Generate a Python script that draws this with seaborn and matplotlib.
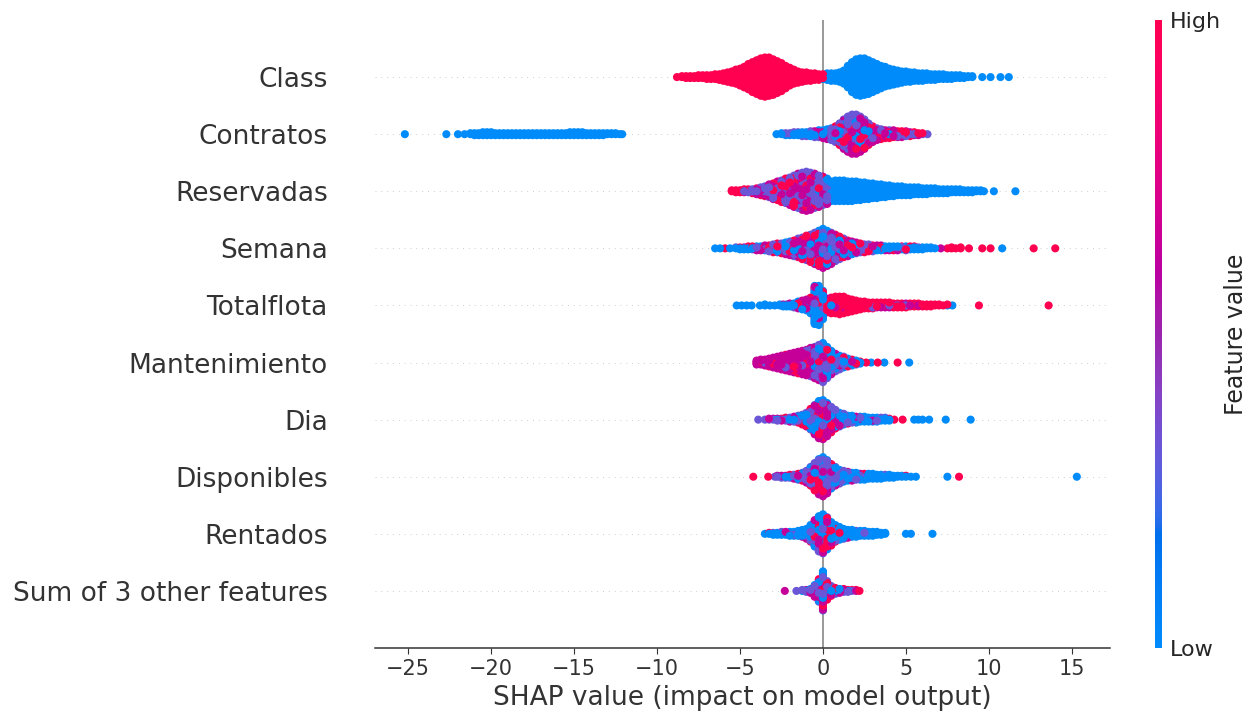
import numpy as np
import pandas as pd
import matplotlib
matplotlib.use("Agg")
import matplotlib.pyplot as plt
from matplotlib.colors import LinearSegmentedColormap, Normalize
from matplotlib.cm import ScalarMappable
import seaborn as sns

# Features, top row first
FEATURES = ["Class", "Contratos", "Reservadas", "Semana", "Totalflota",
            "Mantenimiento", "Dia", "Disponibles", "Rentados",
            "Sum of 3 other features"]

# Feature-value level used to colour each sample group (0 = low, 1 = high)
GROUP_LEVELS = [0.0, 0.32, 0.64, 1.0]

X_TICKS = [-25, -20, -15, -10, -5, 0, 5, 10, 15]
X_LABEL = "SHAP value (impact on model output)"
CBAR_LABEL = "Feature value"
CBAR_TICK_LABELS = ["Low", "High"]

# Each entry: (SHAP value, n low, n mid-low, n mid-high, n high)
CLASS_BINS = [
    (-8.8, 0, 0, 0, 1), (-8.5, 0, 0, 0, 2), (-8.25, 0, 0, 0, 3), (-8.0, 0, 0, 0, 3),
    (-7.75, 0, 0, 0, 3), (-7.5, 0, 0, 0, 4), (-7.25, 0, 0, 0, 4), (-7.0, 0, 0, 0, 5),
    (-6.75, 0, 0, 0, 5), (-6.5, 0, 0, 0, 6), (-6.25, 0, 0, 0, 7), (-6.0, 0, 0, 0, 9),
    (-5.75, 0, 0, 0, 11), (-5.5, 0, 0, 0, 13), (-5.25, 0, 0, 0, 16), (-5.0, 0, 0, 0, 19),
    (-4.75, 0, 0, 0, 23), (-4.5, 0, 0, 0, 28), (-4.25, 0, 0, 0, 33), (-4.0, 0, 0, 0, 37),
    (-3.75, 0, 0, 0, 41), (-3.5, 0, 0, 0, 43), (-3.25, 0, 0, 0, 42), (-3.0, 0, 0, 0, 39),
    (-2.75, 0, 0, 0, 35), (-2.5, 0, 0, 0, 31), (-2.25, 0, 0, 0, 25), (-2.0, 0, 0, 0, 20),
    (-1.75, 0, 0, 0, 16), (-1.5, 0, 0, 0, 13), (-1.25, 0, 0, 0, 11), (-1.0, 1, 0, 0, 9),
    (-0.75, 0, 0, 0, 9), (-0.5, 0, 0, 0, 8), (-0.25, 0, 0, 0, 7), (0.0, 2, 0, 0, 4),
    (0.25, 8, 0, 0, 0), (0.5, 9, 0, 0, 0), (0.75, 9, 0, 0, 0), (1.0, 11, 0, 0, 0),
    (1.25, 15, 0, 0, 0), (1.5, 24, 0, 0, 0), (1.75, 33, 0, 0, 0), (2.0, 39, 0, 0, 0),
    (2.25, 41, 0, 0, 0), (2.5, 40, 0, 0, 0), (2.75, 37, 0, 0, 0), (3.0, 33, 0, 0, 0),
    (3.25, 29, 0, 0, 0), (3.5, 25, 0, 0, 0), (3.75, 22, 0, 0, 0), (4.0, 19, 0, 0, 0),
    (4.25, 17, 0, 0, 0), (4.5, 15, 0, 0, 0), (4.75, 13, 0, 0, 0), (5.0, 12, 0, 0, 0),
    (5.25, 11, 0, 0, 0), (5.5, 10, 0, 0, 0), (5.75, 9, 0, 0, 0), (6.0, 9, 0, 0, 0),
    (6.25, 8, 0, 0, 0), (6.5, 7, 0, 0, 0), (6.75, 7, 0, 0, 0), (7.0, 6, 0, 0, 0),
    (7.25, 6, 0, 0, 0), (7.5, 5, 0, 0, 0), (7.75, 5, 0, 0, 0), (8.0, 4, 0, 0, 0),
    (8.25, 4, 0, 0, 0), (8.5, 3, 0, 0, 0), (8.75, 2, 0, 0, 0), (9.0, 2, 0, 0, 0),
    (9.6, 1, 0, 0, 0), (10.1, 1, 0, 0, 0), (10.7, 1, 0, 0, 0), (11.2, 1, 0, 0, 0),
]

CONTRATOS_BINS = [
    (-25.2, 1, 0, 0, 0), (-22.7, 1, 0, 0, 0), (-22.0, 1, 0, 0, 0), (-21.6, 1, 0, 0, 0),
    (-21.25, 2, 0, 0, 0), (-21.0, 3, 0, 0, 0), (-20.75, 3, 0, 0, 0), (-20.5, 4, 0, 0, 0),
    (-20.25, 4, 0, 0, 0), (-20.0, 4, 0, 0, 0), (-19.75, 3, 0, 0, 0), (-19.5, 3, 0, 0, 0),
    (-19.25, 3, 0, 0, 0), (-19.0, 3, 0, 0, 0), (-18.75, 3, 0, 0, 0), (-18.5, 3, 0, 0, 0),
    (-18.25, 3, 0, 0, 0), (-18.0, 3, 0, 0, 0), (-17.75, 3, 0, 0, 0), (-17.5, 3, 0, 0, 0),
    (-17.25, 3, 0, 0, 0), (-17.0, 3, 0, 0, 0), (-16.75, 3, 0, 0, 0), (-16.5, 3, 0, 0, 0),
    (-16.25, 3, 0, 0, 0), (-16.0, 3, 0, 0, 0), (-15.75, 3, 0, 0, 0), (-15.5, 3, 0, 0, 0),
    (-15.25, 4, 0, 0, 0), (-15.0, 4, 0, 0, 0), (-14.75, 4, 0, 0, 0), (-14.5, 4, 0, 0, 0),
    (-14.25, 3, 0, 0, 0), (-14.0, 3, 0, 0, 0), (-13.75, 3, 0, 0, 0), (-13.5, 3, 0, 0, 0),
    (-13.25, 3, 0, 0, 0), (-13.0, 2, 0, 0, 0), (-12.75, 2, 0, 0, 0), (-12.5, 2, 0, 0, 0),
    (-12.25, 1, 0, 0, 0), (-12.1, 1, 0, 0, 0),
    (-2.8, 1, 0, 0, 0), (-2.5, 2, 0, 0, 0), (-2.25, 2, 1, 0, 0), (-2.0, 2, 1, 0, 0),
    (-1.75, 3, 1, 0, 0), (-1.5, 3, 1, 0, 0), (-1.25, 3, 1, 1, 0), (-1.0, 3, 1, 1, 0),
    (-0.75, 3, 2, 1, 0), (-0.5, 3, 3, 1, 0), (-0.25, 4, 3, 1, 0), (0.0, 4, 3, 2, 0),
    (0.25, 4, 4, 3, 0), (0.5, 4, 5, 3, 1), (0.75, 5, 6, 5, 1), (1.0, 4, 8, 7, 4),
    (1.25, 5, 11, 10, 5), (1.5, 6, 13, 12, 6), (1.75, 6, 14, 14, 7), (2.0, 6, 14, 14, 7),
    (2.25, 5, 13, 12, 7), (2.5, 4, 11, 10, 6), (2.75, 3, 8, 8, 4), (3.0, 2, 6, 6, 3),
    (3.25, 1, 4, 5, 3), (3.5, 1, 3, 4, 3), (3.75, 0, 3, 3, 3), (4.0, 1, 3, 3, 2),
    (4.25, 0, 2, 3, 3), (4.5, 0, 2, 3, 2), (4.75, 0, 2, 2, 3), (5.0, 0, 2, 2, 2),
    (5.25, 0, 1, 2, 2), (5.5, 0, 1, 2, 1), (5.75, 0, 1, 1, 1), (6.0, 0, 1, 0, 1),
    (6.3, 0, 1, 0, 0),
]

RESERVADAS_BINS = [
    (-5.5, 0, 0, 0, 2), (-5.25, 0, 0, 0, 3), (-5.0, 0, 1, 0, 2), (-4.75, 0, 1, 1, 2),
    (-4.5, 0, 2, 1, 1), (-4.25, 0, 2, 1, 2), (-4.0, 0, 3, 2, 2), (-3.75, 0, 4, 3, 2),
    (-3.5, 0, 5, 3, 3), (-3.25, 0, 6, 4, 4), (-3.0, 0, 7, 5, 5), (-2.75, 0, 8, 6, 6),
    (-2.5, 0, 10, 7, 6), (-2.25, 0, 11, 8, 7), (-2.0, 0, 13, 9, 7), (-1.75, 0, 15, 10, 8),
    (-1.5, 0, 17, 10, 9), (-1.25, 0, 19, 11, 9), (-1.0, 0, 20, 12, 9), (-0.75, 0, 20, 11, 8),
    (-0.5, 1, 19, 10, 6), (-0.25, 1, 18, 9, 5), (0.0, 3, 17, 7, 3), (0.25, 10, 11, 4, 2),
    (0.5, 19, 2, 0, 0), (0.75, 22, 0, 0, 0), (1.0, 22, 0, 0, 0), (1.25, 22, 0, 0, 0),
    (1.5, 21, 0, 0, 0), (1.75, 21, 0, 0, 0), (2.0, 20, 0, 0, 0), (2.25, 19, 0, 0, 0),
    (2.5, 18, 0, 0, 0), (2.75, 17, 0, 0, 0), (3.0, 16, 0, 0, 0), (3.25, 15, 0, 0, 0),
    (3.5, 14, 0, 0, 0), (3.75, 13, 0, 0, 0), (4.0, 12, 0, 0, 0), (4.25, 11, 0, 0, 0),
    (4.5, 10, 0, 0, 0), (4.75, 10, 0, 0, 0), (5.0, 9, 0, 0, 0), (5.25, 9, 0, 0, 0),
    (5.5, 8, 0, 0, 0), (5.75, 8, 0, 0, 0), (6.0, 7, 0, 0, 0), (6.25, 7, 0, 0, 0),
    (6.5, 6, 0, 0, 0), (6.75, 6, 0, 0, 0), (7.0, 5, 0, 0, 0), (7.25, 5, 0, 0, 0),
    (7.5, 5, 0, 0, 0), (7.75, 4, 0, 0, 0), (8.0, 4, 0, 0, 0), (8.25, 4, 0, 0, 0),
    (8.5, 3, 0, 0, 0), (8.75, 3, 0, 0, 0), (9.0, 3, 0, 0, 0), (9.25, 2, 0, 0, 0),
    (9.5, 2, 0, 0, 0), (9.7, 1, 0, 0, 0), (10.3, 1, 0, 0, 0), (11.6, 1, 0, 0, 0),
]

SEMANA_BINS = [
    (-6.5, 1, 0, 0, 0), (-6.2, 1, 0, 0, 0), (-5.9, 0, 0, 0, 1), (-5.6, 1, 0, 0, 0),
    (-5.25, 1, 1, 0, 0), (-5.0, 2, 0, 0, 1), (-4.75, 2, 0, 1, 0), (-4.5, 2, 1, 0, 1),
    (-4.25, 1, 1, 1, 1), (-4.0, 2, 1, 1, 1), (-3.75, 2, 1, 1, 1), (-3.5, 2, 1, 1, 2),
    (-3.25, 2, 2, 1, 2), (-3.0, 3, 2, 2, 2), (-2.75, 3, 2, 2, 3), (-2.5, 3, 3, 2, 3),
    (-2.25, 4, 3, 3, 3), (-2.0, 4, 4, 3, 4), (-1.75, 5, 4, 4, 4), (-1.5, 5, 5, 5, 5),
    (-1.25, 6, 5, 6, 6), (-1.0, 7, 6, 6, 7), (-0.75, 7, 7, 7, 8), (-0.5, 8, 8, 8, 9),
    (-0.25, 9, 9, 9, 10), (0.0, 10, 10, 10, 11), (0.25, 9, 9, 9, 10), (0.5, 8, 8, 8, 9),
    (0.75, 7, 7, 7, 7), (1.0, 6, 6, 6, 6), (1.25, 5, 5, 5, 5), (1.5, 4, 4, 4, 5),
    (1.75, 4, 3, 3, 4), (2.0, 3, 3, 3, 3), (2.25, 3, 2, 2, 3), (2.5, 2, 2, 2, 3),
    (2.75, 2, 2, 1, 3), (3.0, 2, 2, 1, 2), (3.25, 2, 1, 1, 2), (3.5, 2, 1, 1, 2),
    (3.75, 2, 1, 1, 1), (4.0, 2, 1, 1, 1), (4.25, 2, 1, 0, 2), (4.5, 2, 1, 1, 1),
    (4.75, 2, 1, 0, 1), (5.0, 3, 1, 0, 1), (5.25, 2, 0, 1, 1), (5.5, 3, 0, 0, 1),
    (5.75, 2, 1, 0, 0), (6.0, 3, 0, 0, 0), (6.25, 2, 0, 0, 0), (6.5, 2, 0, 0, 0),
    (6.75, 1, 0, 0, 0), (7.1, 0, 0, 1, 0), (7.5, 0, 0, 0, 1), (7.75, 0, 0, 0, 2),
    (8.0, 0, 0, 0, 1), (8.3, 0, 0, 0, 2), (8.8, 0, 0, 0, 1), (9.6, 0, 0, 0, 1),
    (10.1, 0, 0, 0, 1), (10.8, 1, 0, 0, 0), (12.7, 0, 0, 0, 1), (14.0, 0, 0, 0, 1),
]

TOTALFLOTA_BINS = [
    (-5.2, 1, 0, 0, 0), (-4.9, 1, 0, 0, 0), (-4.6, 1, 0, 0, 0), (-4.3, 1, 0, 0, 0),
    (-3.8, 1, 0, 0, 0), (-3.5, 2, 0, 0, 0), (-3.2, 1, 0, 0, 0), (-2.9, 1, 0, 0, 0),
    (-2.6, 2, 0, 0, 0), (-2.4, 2, 0, 1, 0), (-2.2, 2, 1, 0, 0), (-2.0, 3, 0, 1, 0),
    (-1.75, 3, 1, 1, 0), (-1.5, 4, 1, 2, 1), (-1.25, 5, 2, 2, 1), (-1.0, 6, 2, 3, 1),
    (-0.75, 9, 3, 4, 1), (-0.5, 24, 4, 9, 3), (-0.25, 28, 4, 7, 2), (0.0, 22, 3, 4, 1),
    (0.25, 2, 1, 2, 10), (0.5, 1, 1, 2, 13), (0.75, 1, 0, 2, 15), (1.0, 1, 1, 1, 16),
    (1.25, 1, 0, 2, 15), (1.5, 0, 1, 1, 13), (1.75, 1, 1, 1, 10), (2.0, 1, 1, 1, 8),
    (2.25, 1, 0, 1, 7), (2.5, 1, 1, 1, 5), (2.75, 1, 0, 1, 5), (3.0, 1, 1, 0, 5),
    (3.25, 1, 0, 1, 4), (3.5, 0, 1, 1, 4), (3.75, 1, 0, 1, 4), (4.0, 0, 1, 1, 4),
    (4.25, 0, 0, 1, 4), (4.5, 0, 1, 0, 4), (4.75, 0, 0, 1, 4), (5.0, 0, 1, 1, 3),
    (5.25, 0, 0, 1, 3), (5.5, 0, 1, 0, 3), (5.75, 0, 0, 1, 3), (6.0, 0, 0, 1, 2),
    (6.25, 0, 0, 0, 3), (6.5, 0, 0, 1, 2), (6.75, 0, 0, 0, 2), (7.0, 0, 0, 0, 2),
    (7.25, 0, 0, 0, 1), (7.5, 1, 0, 0, 1), (7.8, 1, 0, 0, 0), (9.4, 0, 0, 0, 1),
    (13.6, 0, 0, 0, 1),
]

MANTENIMIENTO_BINS = [
    (-4.0, 0, 0, 5, 0), (-3.75, 0, 0, 5, 1), (-3.5, 0, 1, 6, 0), (-3.25, 0, 1, 7, 1),
    (-3.0, 0, 1, 9, 1), (-2.75, 0, 1, 11, 1), (-2.5, 0, 2, 12, 1), (-2.25, 0, 2, 14, 1),
    (-2.0, 0, 3, 14, 2), (-1.75, 0, 3, 16, 2), (-1.5, 1, 4, 16, 2), (-1.25, 1, 5, 17, 2),
    (-1.0, 2, 6, 17, 2), (-0.75, 3, 8, 16, 3), (-0.5, 5, 10, 15, 3), (-0.25, 8, 13, 13, 3),
    (0.0, 12, 15, 10, 4), (0.25, 12, 11, 7, 3), (0.5, 10, 8, 5, 2), (0.75, 8, 6, 3, 2),
    (1.0, 7, 4, 2, 2), (1.25, 6, 3, 2, 1), (1.5, 5, 2, 1, 1), (1.75, 4, 1, 1, 1),
    (2.0, 3, 1, 0, 1), (2.25, 2, 0, 0, 1), (2.6, 0, 0, 0, 1), (2.9, 1, 0, 0, 0),
    (3.3, 0, 0, 0, 1), (3.7, 1, 0, 0, 0), (4.5, 0, 0, 0, 1), (5.2, 1, 0, 0, 0),
]

DIA_BINS = [
    (-3.9, 0, 1, 0, 0), (-3.5, 0, 1, 0, 0), (-3.25, 0, 1, 1, 0), (-3.0, 0, 1, 1, 0),
    (-2.75, 1, 1, 1, 0), (-2.5, 0, 1, 1, 1), (-2.25, 1, 1, 1, 1), (-2.0, 1, 2, 1, 1),
    (-1.75, 1, 2, 2, 1), (-1.5, 2, 2, 2, 2), (-1.25, 2, 3, 3, 3), (-1.0, 3, 4, 4, 4),
    (-0.75, 5, 6, 5, 6), (-0.5, 7, 8, 8, 8), (-0.25, 9, 10, 10, 10), (0.0, 9, 11, 10, 11),
    (0.25, 9, 9, 8, 9), (0.5, 8, 7, 6, 6), (0.75, 7, 5, 4, 4), (1.0, 6, 4, 3, 2),
    (1.25, 6, 3, 2, 1), (1.5, 5, 2, 1, 1), (1.75, 5, 2, 1, 0), (2.0, 5, 1, 1, 0),
    (2.25, 4, 1, 1, 0), (2.5, 4, 1, 0, 1), (2.75, 4, 1, 0, 0), (3.0, 4, 0, 1, 0),
    (3.25, 4, 1, 0, 0), (3.5, 3, 1, 0, 0), (3.75, 3, 1, 0, 0), (4.0, 2, 0, 0, 1),
    (4.3, 0, 0, 0, 1), (4.8, 0, 0, 0, 1), (5.5, 1, 0, 0, 0), (5.75, 1, 0, 0, 0),
    (6.0, 1, 0, 0, 0), (6.4, 1, 0, 0, 0), (7.4, 1, 0, 0, 0), (8.9, 1, 0, 0, 0),
]

DISPONIBLES_BINS = [
    (-4.2, 0, 0, 0, 1), (-3.3, 0, 0, 0, 1), (-2.9, 0, 1, 0, 0), (-2.75, 0, 1, 1, 0),
    (-2.5, 1, 1, 1, 0), (-2.25, 1, 1, 1, 0), (-2.0, 1, 1, 1, 1), (-1.75, 1, 2, 1, 1),
    (-1.5, 2, 2, 2, 1), (-1.25, 2, 3, 2, 2), (-1.0, 3, 4, 3, 3), (-0.75, 4, 6, 5, 5),
    (-0.5, 6, 8, 7, 8), (-0.25, 9, 10, 9, 9), (0.0, 10, 11, 10, 10), (0.25, 10, 9, 8, 8),
    (0.5, 9, 7, 5, 5), (0.75, 8, 5, 4, 3), (1.0, 7, 4, 2, 2), (1.25, 7, 3, 1, 1),
    (1.5, 6, 2, 1, 1), (1.75, 6, 2, 1, 0), (2.0, 6, 1, 1, 0), (2.25, 5, 1, 1, 0),
    (2.5, 5, 1, 0, 1), (2.75, 5, 1, 0, 0), (3.0, 5, 1, 0, 0), (3.25, 4, 1, 0, 0),
    (3.5, 4, 0, 1, 0), (3.75, 3, 1, 0, 0), (4.0, 4, 0, 0, 0), (4.25, 3, 0, 0, 0),
    (4.5, 2, 0, 0, 0), (4.75, 2, 0, 0, 0), (5.0, 1, 0, 0, 1), (5.3, 1, 0, 0, 0),
    (5.6, 1, 0, 0, 0), (7.5, 1, 0, 0, 0), (8.2, 0, 0, 0, 1), (15.3, 1, 0, 0, 0),
]

RENTADOS_BINS = [
    (-3.5, 1, 0, 0, 0), (-3.25, 1, 0, 0, 1), (-3.0, 2, 1, 0, 0), (-2.75, 3, 0, 0, 0),
    (-2.5, 3, 1, 0, 0), (-2.25, 3, 0, 1, 0), (-2.0, 4, 1, 0, 0), (-1.75, 4, 1, 0, 0),
    (-1.5, 4, 1, 0, 1), (-1.25, 5, 1, 1, 1), (-1.0, 6, 2, 1, 2), (-0.75, 9, 4, 2, 3),
    (-0.5, 13, 6, 4, 5), (-0.25, 17, 8, 6, 6), (0.0, 19, 9, 6, 7), (0.25, 16, 7, 5, 6),
    (0.5, 13, 5, 3, 4), (0.75, 11, 3, 2, 2), (1.0, 10, 2, 1, 1), (1.25, 8, 2, 1, 0),
    (1.5, 7, 1, 1, 0), (1.75, 7, 1, 0, 0), (2.0, 6, 1, 0, 0), (2.25, 6, 0, 0, 0),
    (2.5, 5, 1, 0, 0), (2.75, 5, 0, 0, 0), (3.0, 5, 0, 0, 0), (3.25, 4, 0, 0, 0),
    (3.5, 3, 0, 0, 0), (3.75, 2, 0, 0, 0), (5.0, 1, 0, 0, 0), (5.3, 1, 0, 0, 0),
    (6.6, 1, 0, 0, 0),
]

OTHER_BINS = [
    (-2.3, 0, 0, 1, 0), (-1.6, 0, 1, 0, 0), (-1.25, 1, 1, 0, 0), (-1.0, 1, 1, 1, 0),
    (-0.75, 2, 1, 1, 1), (-0.5, 4, 3, 3, 3), (-0.25, 8, 6, 5, 5), (0.0, 13, 10, 9, 9),
    (0.25, 6, 5, 4, 5), (0.5, 3, 3, 2, 3), (0.75, 2, 2, 1, 2), (1.0, 2, 1, 1, 1),
    (1.25, 1, 1, 1, 1), (1.5, 1, 1, 0, 1), (1.75, 0, 1, 0, 1), (2.0, 0, 0, 1, 1),
    (2.2, 0, 0, 0, 1),
]

ROW_TABLES = [CLASS_BINS, CONTRATOS_BINS, RESERVADAS_BINS, SEMANA_BINS,
              TOTALFLOTA_BINS, MANTENIMIENTO_BINS, DIA_BINS,
              DISPONIBLES_BINS, RENTADOS_BINS, OTHER_BINS]


def red_blue_cmap():
    """Blue-to-red colormap interpolated in LCH space."""
    n = 100
    l_vals = np.r_[np.linspace(54.0, 40.0, n // 2), np.linspace(40.0, 54.0, n // 2)]
    c_vals = np.linspace(70.0, 90.0, n)
    h_vals = np.linspace(4.6588, 0.35470565 + 2 * np.pi, n)
    a = c_vals * np.cos(h_vals)
    b = c_vals * np.sin(h_vals)
    fy = (l_vals + 16) / 116
    fx = fy + a / 500
    fz = fy - b / 200

    def finv(t):
        return np.where(t ** 3 > 0.008856, t ** 3, (t - 16 / 116) / 7.787)

    X = 0.95047 * finv(fx)
    Y = finv(fy)
    Z = 1.08883 * finv(fz)
    r = 3.2406 * X - 1.5372 * Y - 0.4986 * Z
    g = -0.9689 * X + 1.8758 * Y + 0.0415 * Z
    bl = 0.0557 * X - 0.2040 * Y + 1.0570 * Z
    rgb = np.clip(np.stack([r, g, bl], axis=-1), 0, None)
    rgb = np.where(rgb > 0.0031308, 1.055 * rgb ** (1 / 2.4) - 0.055, 12.92 * rgb)
    return LinearSegmentedColormap.from_list("red_blue", np.clip(rgb, 0, 1))


def spread_order(n):
    """Deterministic well-spread permutation (golden-ratio sequence)."""
    return np.argsort((np.arange(n) * 0.6180339887) % 1.0, kind="stable")


# Beeswarm layout: samples of each bin stacked in alternating layers
ROW_HEIGHT = 0.4
frames = []
n_rows = len(FEATURES)
for r, table in enumerate(ROW_TABLES):
    row_pos = n_rows - 1 - r
    xs, layers, vals = [], [], []
    for centre, *counts in table:
        levels = np.repeat(GROUP_LEVELS, counts)
        levels = levels[spread_order(len(levels))]
        k = np.arange(len(levels))
        layer = np.ceil(k / 2) * np.where(k % 2 == 1, 1, -1)
        xs.extend([centre] * len(levels))
        layers.extend(layer)
        vals.extend(levels)
    layers = np.asarray(layers, dtype=float)
    offsets = layers * 0.9 * ROW_HEIGHT / (layers.max() + 1)
    df_row = pd.DataFrame({"shap": xs, "ypos": row_pos + offsets, "value": vals})
    frames.append(df_row.iloc[spread_order(len(df_row))])

points = pd.concat(frames[::-1], ignore_index=True)

sns.set_style("white")
plt.rcParams["font.family"] = ["DejaVu Sans"]
axis_color = "#333333"
cmap = red_blue_cmap()

fig = plt.figure(figsize=(12.54, 7.2), dpi=100)
ax = fig.add_axes([375 / 1254, 72 / 720, 735 / 1254, 628 / 720])

for pos in range(n_rows):
    ax.axhline(y=pos, color="#cccccc", lw=0.7, dashes=(1, 5), zorder=-1)
ax.axvline(x=0, color="#999999", lw=1.4, zorder=-1)

sns.scatterplot(data=points, x="shap", y="ypos", hue="value", palette=cmap,
                hue_norm=(0, 1), s=34, linewidth=0, edgecolor="none",
                legend=False, ax=ax, zorder=3)

ax.set_xlim(-27.0, 17.3)
ax.set_ylim(-1, n_rows)
ax.set_yticks(range(n_rows))
ax.set_yticklabels(FEATURES[::-1], fontsize=19)
ax.set_xticks(X_TICKS)
ax.set_xticklabels([f"{t}".replace("-", "\u2212") for t in X_TICKS])
ax.tick_params(axis="y", length=0, pad=34, labelcolor=axis_color)
ax.tick_params(axis="x", labelsize=15, length=4.5, width=0.8,
               color=axis_color, labelcolor=axis_color, bottom=True)
ax.set_xlabel(X_LABEL, fontsize=19, color=axis_color)
ax.set_ylabel("")
for side in ("top", "right", "left"):
    ax.spines[side].set_visible(False)
ax.spines["bottom"].set_color(axis_color)
ax.spines["bottom"].set_linewidth(1.1)

cax = fig.add_axes([1155 / 1254, 72 / 720, 7 / 1254, 628 / 720])
cb = fig.colorbar(ScalarMappable(norm=Normalize(0, 1), cmap=cmap), cax=cax, ticks=[0, 1])
cb.ax.set_yticklabels(CBAR_TICK_LABELS)
cb.ax.tick_params(labelsize=16, length=0, pad=6)
cb.set_label(CBAR_LABEL, size=17, labelpad=2)
cb.outline.set_visible(False)

fig.savefig("out.png", dpi=100)
